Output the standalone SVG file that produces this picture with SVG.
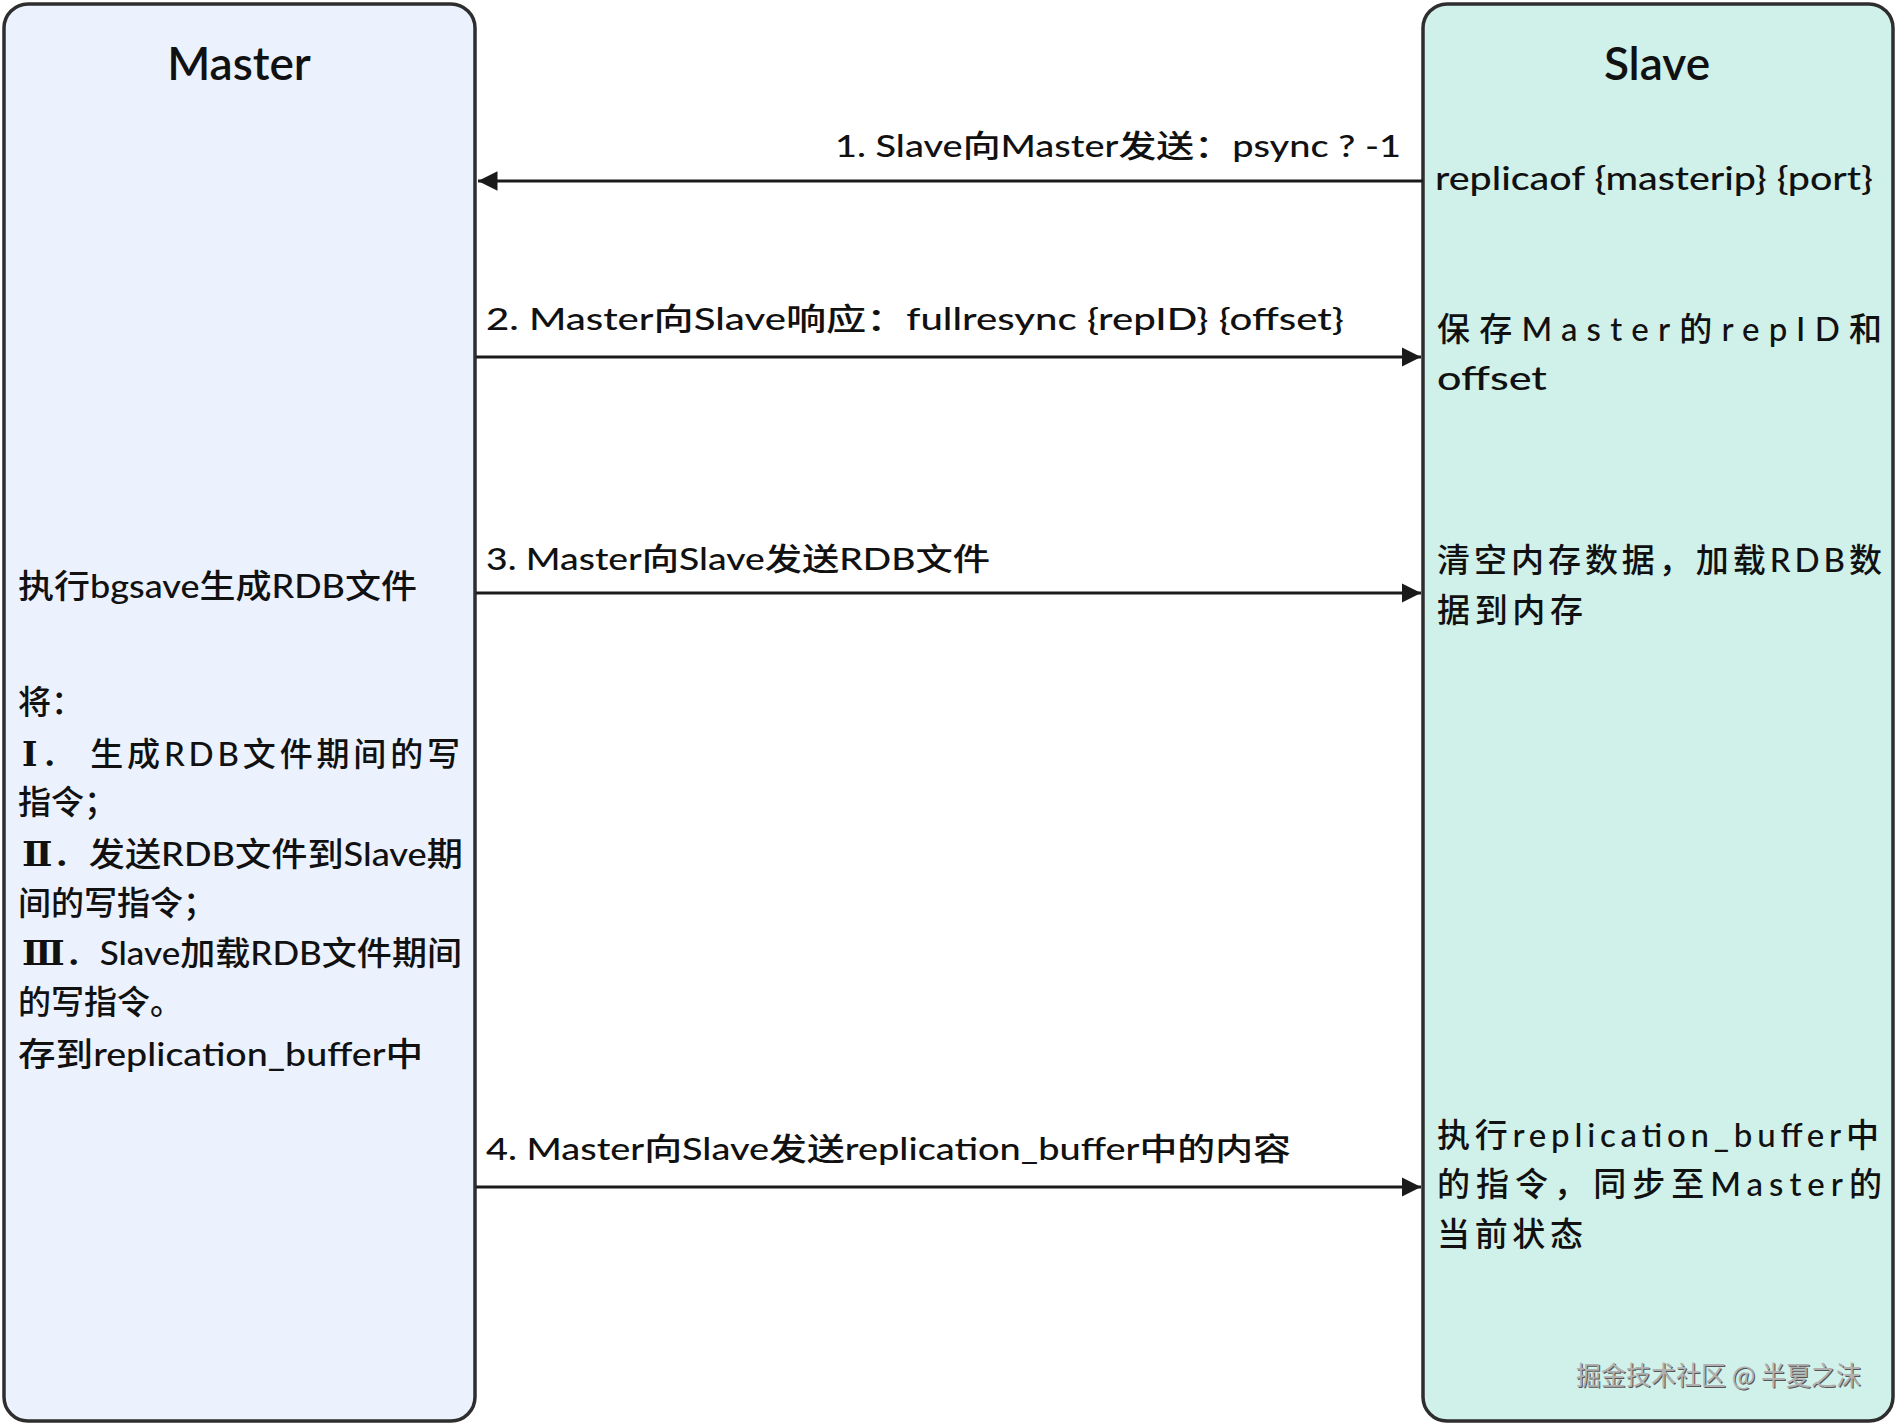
<svg xmlns="http://www.w3.org/2000/svg" width="1897" height="1425" viewBox="0 0 1897 1425">
<style>
.box{stroke:#2e2e2e;stroke-width:3.5}
.t{font-family:"Lato","Noto Sans CJK SC","Noto Sans",sans-serif;fill:#111;font-size:33px;font-weight:500}
.title{font-size:46px;text-anchor:middle;font-weight:600}
.lbl{font-size:31px}
.rn{font-family:"DejaVu Serif","Liberation Serif",serif;font-weight:700}
.con{stroke:#1a1a1a;stroke-width:3;fill:none}
.wm{font-family:"Noto Sans CJK SC",sans-serif;font-size:26px;fill:#b0b0b0}
.wms{font-family:"Noto Sans CJK SC",sans-serif;font-size:26px;fill:#555}
</style>
<defs>
<marker id="ah" viewBox="0 0 10 10" refX="10" refY="5" markerWidth="6.5" markerHeight="6.5" orient="auto-start-reverse" markerUnits="strokeWidth">
<path d="M0,0 L10,5 L0,10 z" fill="#1a1a1a"/>
</marker>
</defs>
<rect width="1897" height="1425" fill="#ffffff"/>
<g id="master">
<rect class="box" x="4" y="4" width="471" height="1417" rx="24" fill="#EBF2FE"/>
<text class="t title" x="239" y="80">Master</text>
<text class="t" x="18" y="598" textLength="399" lengthAdjust="spacingAndGlyphs">执行bgsave生成RDB文件</text>
<text class="t" x="18" y="714">将：</text>
<text class="t" x="22" y="766" textLength="438" lengthAdjust="spacing"><tspan class="rn">Ⅰ</tspan>．  生成RDB文件期间的写</text>
<text class="t" x="18" y="814">指令；</text>
<text class="t" x="22" y="866" textLength="441" lengthAdjust="spacingAndGlyphs"><tspan class="rn">Ⅱ</tspan>．发送RDB文件到Slave期</text>
<text class="t" x="18" y="915">间的写指令；</text>
<text class="t" x="22" y="965" textLength="440" lengthAdjust="spacingAndGlyphs"><tspan class="rn">Ⅲ</tspan>．Slave加载RDB文件期间</text>
<text class="t" x="18" y="1014">的写指令。</text>
<text class="t" x="18" y="1066" textLength="405" lengthAdjust="spacingAndGlyphs">存到replication_buffer中</text>
</g>
<g id="slave">
<rect class="box" x="1423" y="4" width="470" height="1417" rx="24" fill="#D0F0EA"/>
<text class="t title" x="1657" y="80">Slave</text>
<text class="t" x="1435" y="190" textLength="438" lengthAdjust="spacingAndGlyphs">replicaof {masterip} {port}</text>
<text class="t" x="1437" y="341" textLength="445" lengthAdjust="spacing">保存Master的repID和</text>
<text class="t" x="1437" y="390" textLength="110" lengthAdjust="spacingAndGlyphs">offset</text>
<text class="t" x="1437" y="572" textLength="445" lengthAdjust="spacing">清空内存数据，加载RDB数</text>
<text class="t" x="1437" y="622" textLength="146" lengthAdjust="spacing">据到内存</text>
<text class="t" x="1437" y="1147" textLength="442" lengthAdjust="spacing">执行replication_buffer中</text>
<text class="t" x="1437" y="1196" textLength="445" lengthAdjust="spacing">的指令，同步至Master的</text>
<text class="t" x="1437" y="1246" textLength="146" lengthAdjust="spacing">当前状态</text>
<text class="wms" x="1577" y="1386" textLength="285" lengthAdjust="spacingAndGlyphs">掘金技术社区 @ 半夏之沫</text>
<text class="wm" x="1576" y="1385" textLength="285" lengthAdjust="spacingAndGlyphs">掘金技术社区 @ 半夏之沫</text>
</g>
<g id="connectors">
<line class="con" x1="1423" y1="181" x2="478" y2="181" marker-end="url(#ah)"/>
<text class="t lbl" x="835" y="157" textLength="566" lengthAdjust="spacingAndGlyphs">1. Slave向Master发送：psync ? -1</text>
<line class="con" x1="476" y1="357" x2="1421" y2="357" marker-end="url(#ah)"/>
<text class="t lbl" x="486" y="330" textLength="858" lengthAdjust="spacingAndGlyphs">2. Master向Slave响应：fullresync {repID} {offset}</text>
<line class="con" x1="476" y1="593" x2="1421" y2="593" marker-end="url(#ah)"/>
<text class="t lbl" x="486" y="570" textLength="504" lengthAdjust="spacingAndGlyphs">3. Master向Slave发送RDB文件</text>
<line class="con" x1="476" y1="1187" x2="1421" y2="1187" marker-end="url(#ah)"/>
<text class="t lbl" x="486" y="1160" textLength="805" lengthAdjust="spacingAndGlyphs">4. Master向Slave发送replication_buffer中的内容</text>
</g>
</svg>
